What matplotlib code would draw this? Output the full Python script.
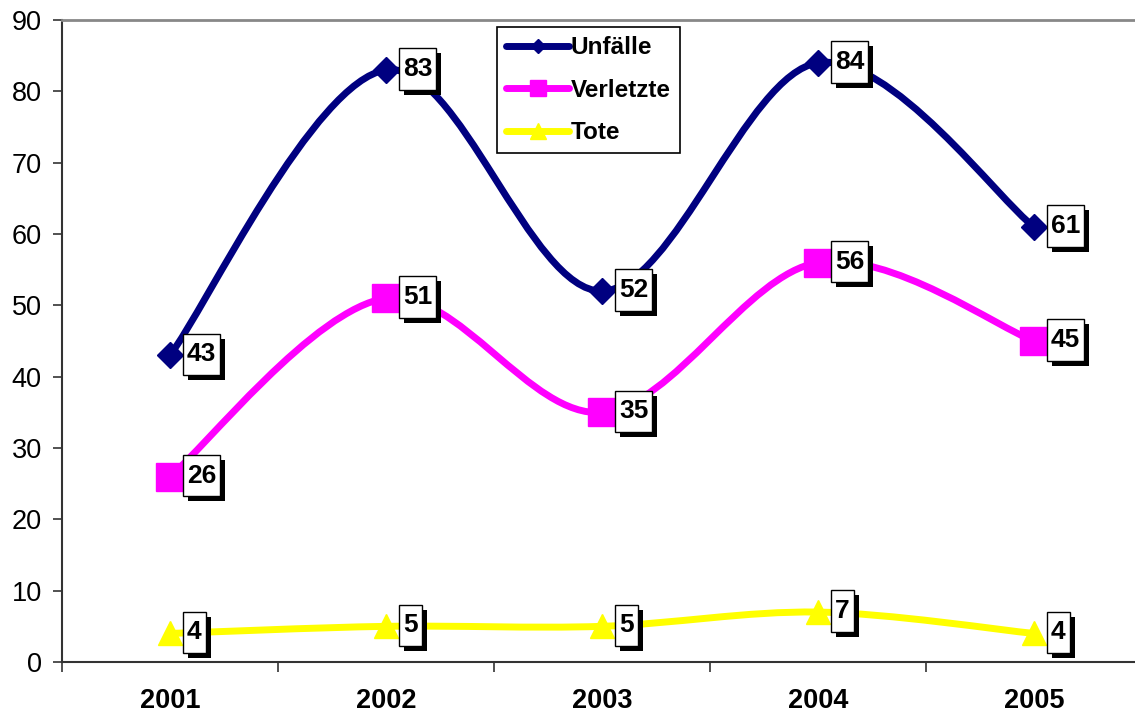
import matplotlib
matplotlib.use('Agg')
import matplotlib.pyplot as plt
from matplotlib.path import Path
from matplotlib.patches import PathPatch
from matplotlib.lines import Line2D
import matplotlib.patheffects as pe

years = ['2001', '2002', '2003', '2004', '2005']
unfaelle = [43, 83, 52, 84, 61]
verletzte = [26, 51, 35, 56, 45]
tote = [4, 5, 5, 7, 4]
series_names = ['Unfälle', 'Verletzte', 'Tote']

plt.rcParams['font.family'] = ['Liberation Sans', 'DejaVu Sans']

W, H = 1135, 719
fig = plt.figure(figsize=(W / 100, H / 100), dpi=100)
ax = fig.add_axes([62 / W, (H - 662) / H, 1080 / W, 642 / H])


def smooth_path(xs, ys):
    pts = list(zip(xs, ys))
    n = len(pts)
    verts = [pts[0]]
    codes = [Path.MOVETO]
    for i in range(n - 1):
        p0 = pts[i - 1] if i > 0 else pts[i]
        p1 = pts[i]
        p2 = pts[i + 1]
        p3 = pts[i + 2] if i + 2 < n else pts[i + 1]
        c1 = (p1[0] + (p2[0] - p0[0]) / 6, p1[1] + (p2[1] - p0[1]) / 6)
        c2 = (p2[0] - (p3[0] - p1[0]) / 6, p2[1] - (p3[1] - p1[1]) / 6)
        verts += [c1, c2, p2]
        codes += [Path.CURVE4] * 3
    return Path(verts, codes)


def label_box(x0, y0, width, height, mutation_size):
    padx = 0.15 * mutation_size
    pady = 0.33 * mutation_size
    x0 -= padx
    y0 -= pady
    x1 = x0 + width + 2 * padx
    y1 = y0 + height + 2 * pady
    return Path([(x0, y0), (x1, y0), (x1, y1), (x0, y1), (x0, y0)],
                [Path.MOVETO, Path.LINETO, Path.LINETO, Path.LINETO, Path.CLOSEPOLY])


xs = list(range(len(years)))
styles = [
    (unfaelle, '#000080', 'D', 13.2, 7.5),
    (verletzte, '#FF00FF', 's', 20, 12),
    (tote, '#FFFF00', '^', 17.3, 12),
]

handles = []
for k, (vals, col, mk, ms, lms) in enumerate(styles):
    patch = PathPatch(smooth_path(xs, vals), fill=False, edgecolor=col, lw=5,
                      capstyle='round', joinstyle='round', zorder=2 + k * 0.1)
    ax.add_patch(patch)
    ax.plot(xs, vals, linestyle='none', marker=mk, markersize=ms, color=col,
            markeredgecolor=col, zorder=3 + k * 0.1)
    handles.append(Line2D([], [], color=col, lw=5, marker=mk, markersize=lms,
                          solid_capstyle='round', label=series_names[k]))

for vals, col, mk, ms, lms in styles:
    for x, v in zip(xs, vals):
        t = ax.annotate(str(v), (x, v), xytext=(17, 1), textcoords='offset pixels',
                        ha='left', va='center', fontsize=19, fontweight='bold',
                        color='black', zorder=5,
                        bbox=dict(boxstyle=label_box, facecolor='white',
                                  edgecolor='black', lw=1))
        t.get_bbox_patch().set_path_effects([
            pe.SimplePatchShadow(offset=(3.6, -3.6), shadow_rgbFace='black', alpha=1.0),
            pe.Normal()])

ax.set_xlim(-0.5, len(years) - 0.5)
ax.set_ylim(0, 90)
ax.set_yticks(range(0, 91, 10))
ax.set_xticks(xs)
ax.set_xticklabels(years, fontsize=19.5, fontweight='bold')
ax.set_xticks([i - 0.5 for i in range(len(years) + 1)], minor=True)
ax.tick_params(axis='x', which='major', length=0, pad=19)
ax.tick_params(axis='x', which='minor', length=7, width=1.2, direction='out', color='#333333')
ax.tick_params(axis='y', length=6.5, width=1.2, direction='out', labelsize=19.5, pad=8,
               color='#333333')

for s in ['left', 'bottom']:
    ax.spines[s].set_color('#333333')
    ax.spines[s].set_linewidth(1.5)
ax.spines['top'].set_color('#888888')
ax.spines['top'].set_linewidth(2)
ax.spines['right'].set_visible(False)

leg = ax.legend(handles=handles, loc='upper left',
                bbox_to_anchor=(497 / W, 1 - 27 / H), bbox_transform=fig.transFigure,
                borderaxespad=0, fancybox=False, framealpha=1, edgecolor='black',
                prop=dict(size=17.5, weight='bold'), handlelength=2.6,
                handletextpad=0.05, labelspacing=0.8, borderpad=0.38)
leg.get_frame().set_linewidth(1.2)
leg.set_zorder(10)

fig.savefig('out.png', dpi=100)
